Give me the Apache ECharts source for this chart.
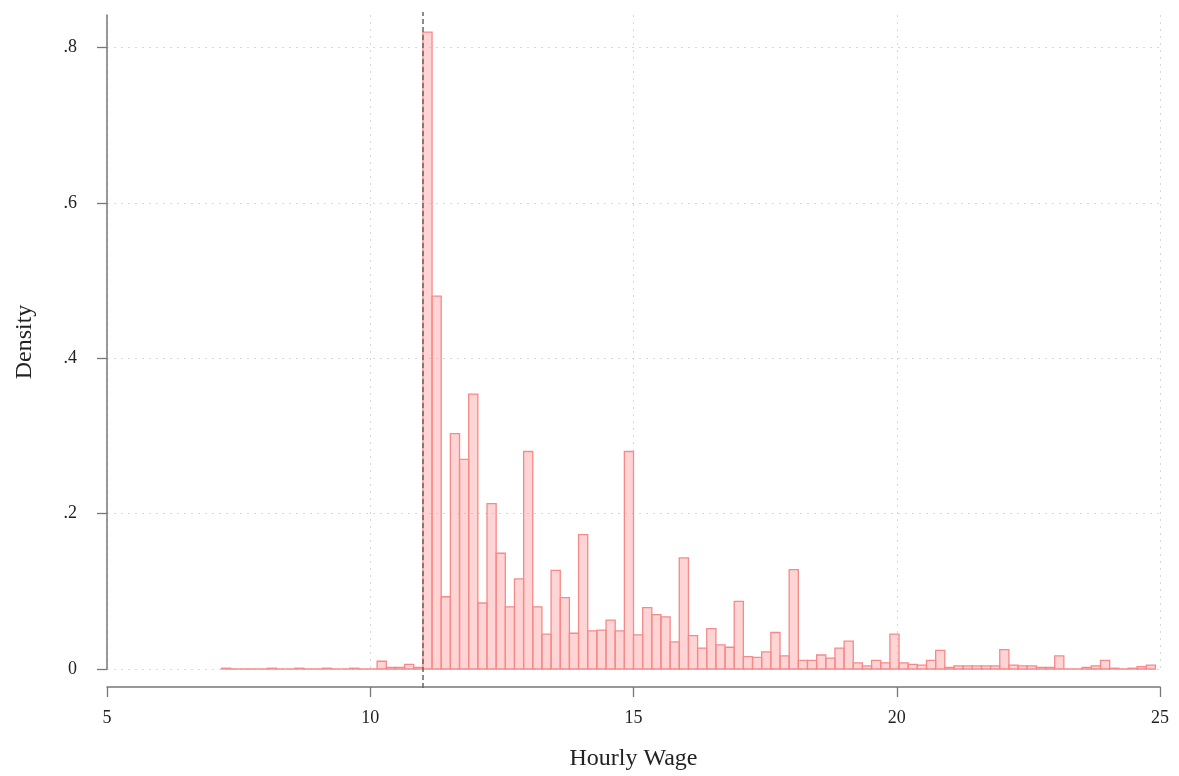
<!DOCTYPE html>
<html><head><meta charset="utf-8">
<script src="https://cdn.jsdelivr.net/npm/echarts@6/dist/echarts.min.js"></script>
<style>html,body{margin:0;background:#fff}#c{width:1179px;height:776px}</style>
</head><body><div id="c"></div>
<script>
var binStart = 11, binWidth = 4 / 23;
// bins below 11 (index -22 .. -1)
var lowBins = [0.001,0,0,0,0,0.001,0,0,0.001,0,0,0.001,0,0,0.001,0,0,0.01,0.002,0.002,0.006,0.002];
// bins from 11 upward (index 0 ..)
var highBins = [0.82,0.48,0.093,0.303,0.270,0.354,0.085,0.213,0.149,0.080,0.116,0.280,0.080,0.045,0.127,0.092,0.046,0.173,0.049,0.050,0.063,0.049,0.280,
  0.044,0.079,0.070,0.067,0.035,0.143,0.043,0.027,0.052,0.031,0.028,0.087,0.016,0.015,0.022,0.047,0.017,0.128,0.011,0.011,0.018,0.014,0.027,0.036,0.008,0.004,0.011,0.008,
  0.045,0.008,0.006,0.005,0.011,0.024,0.002,0.004,0.004,0.004,0.004,0.004,0.025,0.005,0.004,0.004,0.002,0.002,0.017,0,0,0.002,0.004,0.011,0.001,0,0.001,0.003,0.005];
var xTicks = [5, 10, 15, 20, 25];
var yTicks = ['0', '.2', '.4', '.6', '.8'];
var cutoff = 11;

var bins = [];
lowBins.forEach(function (v, i) { var k = i - lowBins.length; bins.push([binStart + k * binWidth, binStart + (k + 1) * binWidth, v]); });
highBins.forEach(function (v, i) { bins.push([binStart + i * binWidth, binStart + (i + 1) * binWidth, v]); });

var serif = 'Liberation Serif';
var chart = echarts.init(document.getElementById('c'));
chart.setOption({
  animation: false,
  grid: { left: 107, right: 19, top: 15, bottom: 106 },
  xAxis: {
    type: 'value', min: xTicks[0], max: xTicks[xTicks.length - 1], interval: 5, offset: 18,
    name: 'Hourly Wage', nameLocation: 'middle', nameGap: 60,
    nameTextStyle: { fontFamily: serif, fontSize: 24, color: '#222' },
    axisLine: { onZero: false, lineStyle: { color: '#777', width: 1.5 } },
    axisTick: { length: 10, lineStyle: { color: '#777', width: 1.3 } },
    axisLabel: { fontFamily: serif, fontSize: 18, color: '#222', margin: 22 },
    splitLine: { show: true, lineStyle: { color: '#d8d8d8', type: [2, 5] } }
  },
  yAxis: {
    type: 'value', min: 0, max: 0.842, interval: 0.2,
    name: 'Density', nameLocation: 'middle', nameGap: 70,
    nameTextStyle: { fontFamily: serif, fontSize: 24, color: '#222' },
    axisLine: { show: true, lineStyle: { color: '#777', width: 1.5 } },
    axisTick: { show: true, length: 10, lineStyle: { color: '#777', width: 1.3 } },
    axisLabel: { fontFamily: serif, fontSize: 18, color: '#222', margin: 30, showMaxLabel: false,
      formatter: function (v) { var i = Math.round(v * 5); return Math.abs(v * 5 - i) < 1e-6 ? (yTicks[i] || '') : ''; } },
    splitLine: { show: true, showMaxLine: false, lineStyle: { color: '#d8d8d8', type: [2, 5] } }
  },
  series: [{
    type: 'custom',
    data: bins,
    encode: { x: [0, 1], y: 2 },
    renderItem: function (params, api) {
      var p0 = api.coord([api.value(0), api.value(2)]);
      var p1 = api.coord([api.value(1), 0]);
      return { type: 'rect', shape: { x: p0[0], y: p0[1], width: p1[0] - p0[0], height: p1[1] - p0[1] },
        style: { fill: 'rgba(255,160,160,0.45)', stroke: '#f58a8a', lineWidth: 1.3 } };
    },
    markLine: {
      silent: true, symbol: 'none', label: { show: false },
      lineStyle: { color: '#666', type: [5, 3], width: 1.5 },
      data: [[{ coord: [cutoff, 0], y: 688 }, { coord: [cutoff, 0.842], y: 12 }]]
    }
  }]
});
</script></body></html>
